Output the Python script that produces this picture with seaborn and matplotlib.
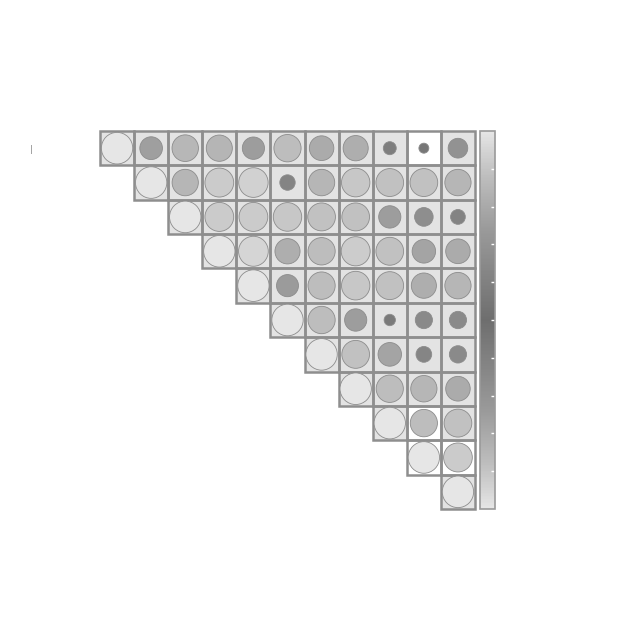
import numpy as np
import matplotlib
matplotlib.use("Agg")
import matplotlib.pyplot as plt
from matplotlib.colors import LinearSegmentedColormap, ListedColormap, Normalize
from matplotlib.cm import ScalarMappable
from matplotlib.patches import Circle, Rectangle
import seaborn as sns

# upper triangle of the correlation matrix, one list per row (starting at the diagonal)
row_0 = [1.00, 0.52, 0.71, 0.69, 0.50, 0.75, 0.61, 0.64, 0.17, 0.10, 0.39]
row_1 = [1.00, 0.70, 0.84, 0.88, 0.24, 0.70, 0.82, 0.78, 0.78, 0.70]
row_2 = [1.00, 0.84, 0.84, 0.82, 0.78, 0.78, 0.50, 0.35, 0.22]
row_3 = [1.00, 0.90, 0.64, 0.75, 0.85, 0.78, 0.56, 0.61]
row_4 = [1.00, 0.49, 0.75, 0.82, 0.78, 0.64, 0.70]
row_5 = [1.00, 0.75, 0.50, 0.13, 0.30, 0.30]
row_6 = [1.00, 0.78, 0.56, 0.25, 0.30]
row_7 = [1.00, 0.75, 0.70, 0.61]
row_8 = [1.00, 0.75, 0.78]
row_9 = [1.00, 0.84]
row_10 = [1.00]
rows = [row_0, row_1, row_2, row_3, row_4, row_5, row_6, row_7, row_8, row_9, row_10]

# cells drawn with a white background instead of grey
white_cells = [(0, 9), (8, 9), (9, 9), (9, 10)]

n = len(rows)
corr = np.full((n, n), np.nan)
for i, vals in enumerate(rows):
    corr[i, i:] = vals

bg = np.zeros((n, n))
for i, j in white_cells:
    bg[i, j] = 1
mask = np.isnan(corr)

# ── colours ──────────────────────────────────────────────────────────────────
GRID = "#8e8e8e"
stops = [(0.00, "#e6e6e6"), (0.05, "#d4d4d4"), (0.125, "#bcbcbc"),
         (0.25, "#9c9c9c"), (0.50, "#6e6e6e"), (0.75, "#9c9c9c"),
         (0.875, "#bcbcbc"), (0.95, "#d4d4d4"), (1.00, "#e6e6e6")]
cmap = LinearSegmentedColormap.from_list("greys_div", stops)
norm = Normalize(-1, 1)

fig = plt.figure(figsize=(6.24, 6.24), dpi=100)
W = H = 624.0
ax = fig.add_axes([100 / W, 1 - 509 / H, 375 / W, 378 / H])

sns.heatmap(bg, mask=mask, cmap=ListedColormap(["#e3e3e3", "#ffffff"]),
            vmin=0, vmax=1, cbar=False, linewidths=0,
            square=False, xticklabels=False, yticklabels=False, ax=ax)

for i in range(n):
    for j in range(i, n):
        ax.add_patch(Rectangle((j, i), 1, 1, facecolor="none", edgecolor=GRID,
                               linewidth=1.8, zorder=2, clip_on=False))
        r = corr[i, j]
        ax.add_patch(Circle((j + 0.5, i + 0.5), 0.46 * np.sqrt(abs(r)),
                            facecolor=cmap(norm(r)), edgecolor="#8c8c8c",
                            linewidth=0.6, zorder=3))

ax.set_xlim(0, n)
ax.set_ylim(n, 0)
ax.axis("off")

# ── colour bar ───────────────────────────────────────────────────────────────
cax = fig.add_axes([480 / W, 1 - 509 / H, 15 / W, 378 / H])
cb = fig.colorbar(ScalarMappable(norm=norm, cmap=cmap), cax=cax)
cb.outline.set_edgecolor("#9a9a9a")
cb.outline.set_linewidth(1.2)
cb.set_ticks(np.arange(-0.8, 0.81, 0.2))
cax.tick_params(direction="in", color="white", length=3, width=1,
                labelright=False, labelleft=False)

# stray row label mark on the left
fig.text(31 / W, 1 - 150 / H, "|", color="#888888", fontsize=6,
         ha="center", va="center")

fig.savefig("out.png", dpi=100)
